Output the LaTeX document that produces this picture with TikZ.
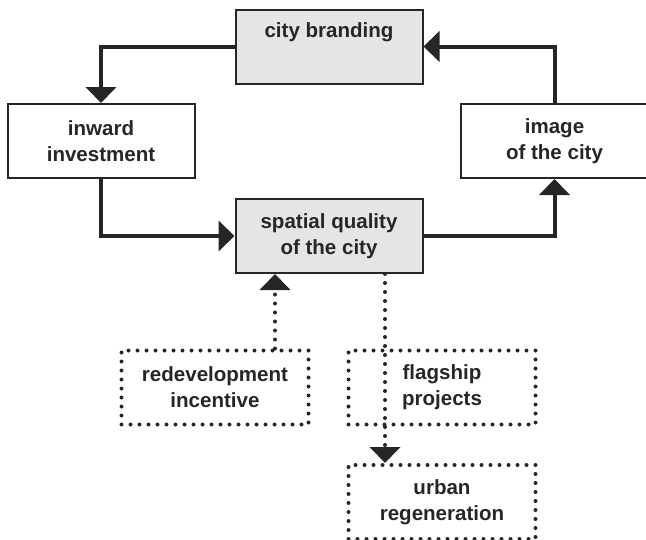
\documentclass[tikz,border=0pt]{standalone}
\usepackage{fontspec}
\setmainfont{Liberation Sans}
\usetikzlibrary{arrows.meta}

\tikzset{
  plainbox/.style={draw=black!85, line width=1.5pt, inner sep=0pt, align=center,
    minimum width=140.25pt, minimum height=55.5pt,
    font=\bfseries\fontsize{15.4}{19.5}\selectfont, text=black!85},
  shadebox/.style={plainbox, fill=black!10},
  dotbox/.style={plainbox, line width=3pt, line cap=round, dash pattern=on 0pt off 6.75pt},
  flow/.style={draw=black!85, line width=3pt, -{Triangle[width=22.5pt,length=12pt]}},
  dotflow/.style={flow, line width=3pt, line cap=round, dash pattern=on 0pt off 6.75pt}
}

\begin{document}
\begin{tikzpicture}[x=0.75pt, y=-0.75pt]
  %%%%% START %%%%%
  \useasboundingbox (0,0) rectangle (646,539);

  \node[shadebox] (brand) at (329, 46.5) {city branding\\ \strut};
  \node[plainbox] (inward) at (101, 141) {inward\\investment};
  \node[plainbox] (image) at (554.5, 141) {image\\of the city};
  \node[shadebox] (spatial) at (329, 236) {spatial quality\\of the city};

  \node[dotbox] (redev) at (215, 387.5) {redevelopment\\incentive};
  \node[dotbox] (flag) at (442, 387.5) {flagship\\projects};
  \node[dotbox] (urban) at (442, 502) {urban\\regeneration};

  % the loop
  \draw[flow] (brand.west) -| (inward.north);
  \draw[flow] (inward.south) |- (spatial.west);
  \draw[flow] (spatial.east) -| (image.south);
  \draw[flow] (image.north) |- (brand.east);

  % dotted links
  \coordinate (upfoot) at ([xshift=45pt]redev.north);
  \coordinate (downtop) at ([xshift=42pt]spatial.south);
  \draw[dotflow] (upfoot) -- (upfoot |- spatial.south);
  \draw[dotflow] (downtop) -- (downtop |- urban.north);
  %%%%% END %%%%%
\end{tikzpicture}
\end{document}
